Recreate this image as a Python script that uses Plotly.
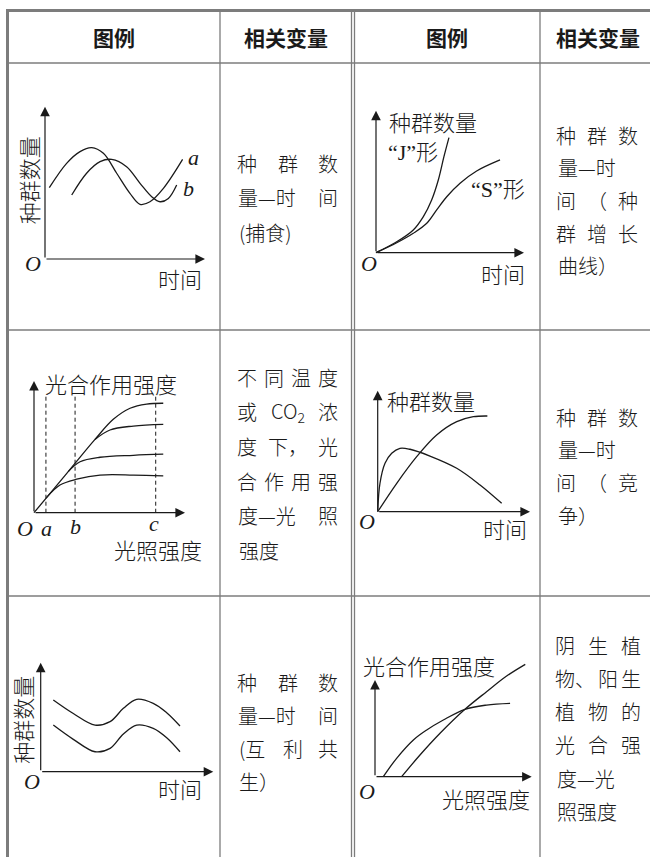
import re
import plotly.graph_objects as go

W, H = 650, 857
CJK = "Noto Sans CJK SC"
SERIF = "Liberation Serif"
INK = "#1a1a1a"
RULE = "#7c7c7c"

# ---------------- data ----------------
header_labels = ["图例", "相关变量", "图例", "相关变量"]

# chart 1: predation (a = prey, b = predator)
pred_a_time = [0.27, 1.35, 2.19, 2.92, 3.65, 4.48, 5.31, 5.94, 6.56, 7.40, 8.60]
pred_a_num = [4.68, 6.28, 7.05, 7.31, 6.94, 5.63, 4.31, 3.59, 3.76, 4.64, 6.54]
pred_b_time = [1.67, 2.60, 3.44, 4.17, 5.10, 5.94, 6.67, 7.19, 7.71, 8.23]
pred_b_num = [4.20, 5.63, 6.39, 6.54, 6.06, 4.97, 4.09, 3.76, 3.98, 4.86]

# chart 2: growth curves
j_time = [0, 1.40, 2.52, 3.20, 3.76, 4.21, 4.59, 4.93]
j_num = [0, 0.77, 1.60, 2.54, 3.71, 5.12, 6.76, 8.10]
s_time = [0, 1.40, 2.52, 3.43, 4.10, 4.78, 5.68, 6.80, 8.38]
s_num = [0, 0.70, 1.37, 2.07, 3.01, 3.94, 4.89, 5.75, 6.53]

# chart 3: photosynthesis vs light at different temperature / CO2
light_marks = [0.79, 2.72, 8.06]
light_mark_labels = ["a", "b", "c"]
dash_top = 9.0
ps1_light = [0, 2.17, 4.04, 5.25, 6.36, 7.46, 8.56]
ps1_rate = [0, 2.99, 5.57, 7.09, 7.93, 8.25, 8.31]
ps2_light = [4.04, 5.03, 6.58, 8.56]
ps2_rate = [5.56, 6.28, 6.58, 6.71]
ps3_light = [2.27, 3.05, 4.37, 6.58, 8.56]
ps3_rate = [3.12, 3.87, 4.21, 4.36, 4.44]
ps4_light = [0.84, 1.72, 2.83, 4.37, 6.58, 8.56]
ps4_rate = [1.16, 2.10, 2.54, 2.86, 2.86, 2.79]

# chart 4: competition
comp_win_time = [0, 1.25, 2.56, 3.87, 5.19, 6.28, 7.20]
comp_win_num = [0, 2.35, 4.55, 6.34, 7.44, 7.85, 7.91]
comp_lose_time = [0, 0.15, 0.48, 0.92, 1.46, 2.12, 3.43, 5.19, 6.72, 8.14]
comp_lose_num = [0, 2.35, 4.00, 4.83, 5.24, 5.16, 4.60, 3.59, 2.21, 0.69]

# chart 5: mutualism
mut_time = [0.73, 1.89, 3.15, 4.02, 4.79, 5.56, 6.52, 7.30, 8.07]
mut_upper = [6.58, 5.34, 4.28, 4.59, 5.81, 6.64, 6.27, 5.41, 4.19]
mut_lower = [4.28, 2.97, 1.83, 2.14, 3.46, 4.28, 3.98, 3.12, 1.83]

# chart 6: shade vs sun plants
shade_light = [0.53, 1.38, 2.45, 3.30, 4.36, 5.74, 7.12, 8.62]
shade_rate = [0, 1.90, 3.80, 4.83, 5.86, 6.97, 7.41, 7.59]
sun_light = [1.70, 2.87, 4.15, 5.74, 7.12, 8.40, 9.59]
sun_rate = [0, 2.24, 4.49, 6.97, 8.79, 10.41, 11.62]

# cell texts (tokens separated by spaces are spread across the line)
r1c2_text = ["种 群 数", "量—时 间", "(捕食)"]
r1c4_text = ["种 群 数", "量—时", "间 （ 种", "群 增 长", "曲线）"]
r2c2_text = ["不 同 温 度", "或 CO<sub>2</sub> 浓", "度 下， 光", "合 作 用 强", "度—光 照", "强度"]
r2c4_text = ["种 群 数", "量—时", "间 （ 竞", "争）"]
r3c2_text = ["种 群 数", "量—时 间", "(互 利 共", "生）"]
r3c4_text = ["阴 生 植", "物、 阳 生", "植 物 的", "光 合 强", "度—光", "照强度"]

# ---------------- layout helpers ----------------
def P(px, py):
    return px / W, 1 - py / H


annotations = []
shapes = []


def note(text, px, py, size=20, family=CJK, xanchor="center", yanchor="middle", angle=0,
         weight="normal"):
    x, y = P(px, py)
    annotations.append(dict(text=text, x=x, y=y, xref="paper", yref="paper", showarrow=False,
                            xanchor=xanchor, yanchor=yanchor, textangle=angle,
                            font=dict(family=family, size=size, color=INK, weight=weight)))


def em_width(tok):
    s = re.sub(r"<[^>]+>", "", tok)
    return sum(1.0 if ord(c) > 0x2000 else 0.5 for c in s)


def paragraph(lines, x0, x1, y0, pitch, fs=20):
    for k, line in enumerate(lines):
        y = y0 + k * pitch
        toks = line.split(" ")
        if len(toks) == 1:
            note(toks[0], x0, y, size=fs, xanchor="left", weight=300)
            continue
        widths = [em_width(t) * fs for t in toks]
        gap = (x1 - x0 - sum(widths)) / (len(toks) - 1)
        x = x0
        for t, w in zip(toks, widths):
            note(t, x + w / 2, y, size=fs, weight=300)
            x += w + gap


def hline(py, x0, x1, width=1.3, color=RULE):
    a, y = P(x0, py)
    b, _ = P(x1, py)
    shapes.append(dict(type="line", xref="paper", yref="paper", x0=a, x1=b, y0=y, y1=y,
                       line=dict(color=color, width=width)))


def vline(px, y0, y1, width=1.3, color=RULE):
    x, a = P(px, y0)
    _, b = P(px, y1)
    shapes.append(dict(type="line", xref="paper", yref="paper", x0=x, x1=x, y0=a, y1=b,
                       line=dict(color=color, width=width)))


# ---------------- table grid ----------------
hline(10.5, 6, 650, width=3)
vline(7.5, 9, 857, width=3)
hline(63, 7.5, 650)
hline(330, 7.5, 650)
hline(596, 7.5, 650)
vline(220, 10, 857)
vline(351.5, 10, 857)
vline(354.5, 10, 857)
vline(540, 10, 857)

header_x = [114, 286, 447, 598]
for lab, hx in zip(header_labels, header_x):
    note(lab, hx, 37, size=21, weight=600)

paragraph(r1c2_text, 237, 338, 163, 34.5)
paragraph(r1c4_text, 556, 638, 135, 32.7)
paragraph(r2c2_text, 237, 338, 377, 34.7)
paragraph(r2c4_text, 556, 638, 417, 32.8)
paragraph(r3c2_text, 237, 338, 682, 33.3)
paragraph(r3c4_text, 555, 641, 645, 33.3)

# ---------------- mini charts ----------------
chart_boxes = [  # origin pixel, arrow-tip pixels (x tip, y tip)
    ((45, 259), (205, 106.7)),
    ((376, 252.7), (524, 110.7)),
    ((34, 512.7), (185, 381)),
    ((377.7, 511.7), (530, 390.7)),
    ((40.7, 771.7), (213.3, 662.7)),
    ((375, 776.7), (531.7, 680)),
]
XR = (-1, 11)
YR = (-1, 12.5)

fig = go.Figure()
layout_axes = {}


def ax_names(i):
    return ("x", "y") if i == 0 else ("x%d" % (i + 1), "y%d" % (i + 1))


for i, ((ox, oy), (tx, ty)) in enumerate(chart_boxes):
    kx = (tx - ox) / 10.0
    ky = (oy - ty) / 10.0
    xd = [(ox + XR[0] * kx) / W, (ox + XR[1] * kx) / W]
    yd = [1 - (oy - YR[0] * ky) / H, 1 - (oy - YR[1] * ky) / H]
    xn, yn = ax_names(i)
    xkey = "xaxis" if i == 0 else "xaxis%d" % (i + 1)
    ykey = "yaxis" if i == 0 else "yaxis%d" % (i + 1)
    layout_axes[xkey] = dict(domain=xd, range=list(XR), visible=False, fixedrange=True, anchor=yn)
    layout_axes[ykey] = dict(domain=yd, range=list(YR), visible=False, fixedrange=True, anchor=xn)
    for (hx, hy) in [(10, 0), (0, 10)]:
        annotations.append(dict(x=hx, y=hy, ax=0, ay=0, xref=xn, yref=yn, axref=xn, ayref=yn,
                                text="", showarrow=True, arrowhead=2, arrowsize=1.6,
                                arrowwidth=1.2, arrowcolor=INK, standoff=0))


def curve(xs, ys, i, dash=None, width=1.3, spline=True):
    xn, yn = ax_names(i)
    fig.add_trace(go.Scatter(x=xs, y=ys, mode="lines", xaxis=xn, yaxis=yn,
                             line=dict(color=INK, width=width, dash=dash,
                                       shape="spline" if spline else "linear"),
                             hoverinfo="skip", showlegend=False))


curve(pred_a_time, pred_a_num, 0)
curve(pred_b_time, pred_b_num, 0)
curve(j_time, j_num, 1)
curve(s_time, s_num, 1)
for m in light_marks:
    curve([m, m], [0, dash_top], 2, dash="4px,3px", width=1.0, spline=False)
curve(ps1_light, ps1_rate, 2)
curve(ps2_light, ps2_rate, 2)
curve(ps3_light, ps3_rate, 2)
curve(ps4_light, ps4_rate, 2)
curve(comp_win_time, comp_win_num, 3)
curve(comp_lose_time, comp_lose_num, 3)
curve(mut_time, mut_upper, 4)
curve(mut_time, mut_lower, 4)
curve(shade_light, shade_rate, 5)
curve(sun_light, sun_rate, 5)

# chart labels
LBL = 22
ITAL = 22
W3 = 300
# chart 1
note("种群数量", 28.3, 180, size=LBL, angle=-90, weight=W3)
note("<i>O</i>", 33.3, 263.3, size=ITAL, family=SERIF)
note("时间", 180, 278.3, size=LBL, weight=W3)
note("<i>a</i>", 193.3, 157.7, size=ITAL, family=SERIF)
note("<i>b</i>", 188.3, 188.3, size=ITAL, family=SERIF)
# chart 2
note("种群数量", 433, 121, size=LBL, weight=W3)
note('<span style="font-family:Liberation Serif">“J”</span>形', 413, 150, size=LBL, weight=W3)
note('<span style="font-family:Liberation Serif">“S”</span>形', 498, 186.7, size=LBL, weight=W3)
note("<i>O</i>", 369.3, 263.3, size=ITAL, family=SERIF)
note("时间", 503.3, 273.3, size=LBL, weight=W3)
# chart 3
note("光合作用强度", 111, 383.3, size=LBL, weight=W3)
note("<i>O</i>", 25, 528.3, size=ITAL, family=SERIF)
for lab, lx, ly in zip(light_mark_labels, [46.7, 75, 154], [528.3, 526.7, 523]):
    note("<i>%s</i>" % lab, lx, ly, size=ITAL, family=SERIF)
note("光照强度", 158, 549, size=LBL, weight=W3)
# chart 4
note("种群数量", 431, 400, size=LBL, weight=W3)
note("<i>O</i>", 367.3, 521.7, size=ITAL, family=SERIF)
note("时间", 505, 528.3, size=LBL, weight=W3)
# chart 5
note("种群数量", 21.7, 720, size=LBL, angle=-90, weight=W3)
note("<i>O</i>", 31.7, 781, size=ITAL, family=SERIF)
note("时间", 180, 788.3, size=LBL, weight=W3)
# chart 6
note("光合作用强度", 429, 665, size=LBL, weight=W3)
note("<i>O</i>", 366.7, 791.7, size=ITAL, family=SERIF)
note("光照强度", 485.5, 797.7, size=LBL, weight=W3)

fig.update_layout(
    width=W, height=H, margin=dict(l=0, r=0, t=0, b=0),
    paper_bgcolor="white", plot_bgcolor="rgba(0,0,0,0)",
    showlegend=False, annotations=annotations, shapes=shapes,
    font=dict(family=CJK, color=INK),
    **layout_axes,
)

fig.write_html(
    "out.html",
    config={"displayModeBar": False, "staticPlot": True},
    post_script="document.body.style.margin='0';document.body.style.overflow='hidden';",
)
